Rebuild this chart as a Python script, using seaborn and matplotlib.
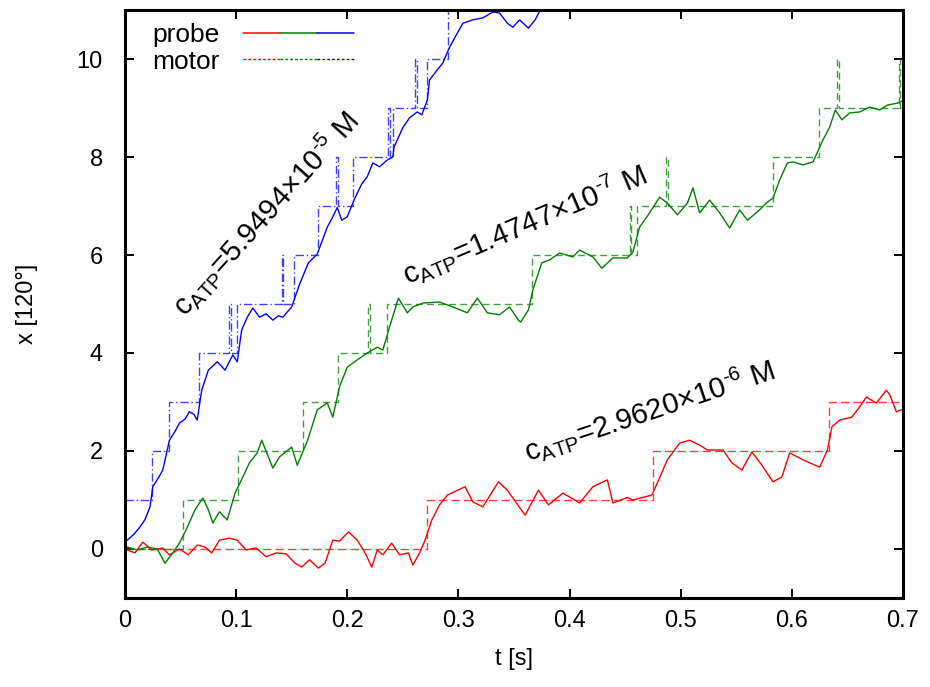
import numpy as np
import pandas as pd
import matplotlib
matplotlib.use("Agg")
import matplotlib.pyplot as plt
import seaborn as sns
from matplotlib.lines import Line2D
from matplotlib.legend_handler import HandlerTuple

# probe traces (t [s], x [120 deg])
t_blue = [0.000, 0.002, 0.008, 0.0135, 0.018, 0.0225, 0.025, 0.030, 0.034, 0.040, 0.045, 0.049,
          0.054, 0.058, 0.062, 0.065, 0.069, 0.075, 0.083, 0.086, 0.090, 0.097, 0.101, 0.105,
          0.110, 0.115, 0.121, 0.127, 0.133, 0.138, 0.142, 0.150, 0.157, 0.165, 0.173, 0.182,
          0.187, 0.191, 0.195, 0.200, 0.206, 0.213, 0.218, 0.223, 0.229, 0.236, 0.241, 0.242,
          0.250, 0.256, 0.263, 0.267, 0.272, 0.274, 0.281, 0.286, 0.292, 0.299, 0.304, 0.313,
          0.322, 0.331, 0.337, 0.344, 0.349, 0.355, 0.363, 0.369, 0.375, 0.385, 0.400]
x_blue = [0.15, 0.18, 0.30, 0.45, 0.60, 0.86, 1.27, 1.45, 1.61, 2.22, 2.40, 2.57,
          2.65, 2.80, 2.75, 2.63, 3.24, 3.65, 3.82, 3.75, 3.65, 3.96, 3.82, 4.47,
          4.73, 4.92, 4.73, 4.80, 4.67, 4.76, 4.73, 4.94, 5.40, 5.84, 6.02, 6.57,
          6.78, 6.97, 6.71, 6.78, 7.12, 7.45, 7.60, 7.88, 7.80, 7.94, 8.00, 8.20,
          8.60, 8.80, 8.92, 8.86, 9.16, 9.57, 9.78, 9.92, 10.24, 10.53, 10.73, 10.80,
          10.84, 10.96, 10.94, 10.73, 10.65, 10.80, 10.63, 10.80, 11.06, 11.5, 12.0]

t_green = [0.000, 0.002, 0.011, 0.020, 0.029, 0.036, 0.043, 0.049, 0.055, 0.063, 0.070, 0.075,
           0.079, 0.085, 0.092, 0.099, 0.106, 0.112, 0.119, 0.123, 0.129, 0.133, 0.139, 0.150,
           0.155, 0.164, 0.173, 0.182, 0.187, 0.193, 0.200, 0.209, 0.218, 0.227, 0.232, 0.238,
           0.246, 0.254, 0.259, 0.268, 0.283, 0.295, 0.308, 0.317, 0.326, 0.337, 0.346, 0.354,
           0.356, 0.363, 0.367, 0.375, 0.382, 0.391, 0.403, 0.409, 0.421, 0.429, 0.439, 0.452,
           0.457, 0.463, 0.472, 0.481, 0.488, 0.497, 0.506, 0.511, 0.517, 0.526, 0.535, 0.544,
           0.553, 0.560, 0.569, 0.578, 0.583, 0.589, 0.596, 0.601, 0.610, 0.619, 0.623, 0.628,
           0.634, 0.639, 0.645, 0.652, 0.661, 0.670, 0.679, 0.686, 0.695, 0.700]
x_green = [0.02, 0.04, -0.02, 0.04, 0.00, -0.29, -0.08, 0.12, 0.39, 0.80, 1.04, 0.80,
           0.53, 0.76, 0.59, 1.14, 1.47, 1.76, 1.96, 2.22, 1.88, 1.65, 1.88, 2.08,
           1.71, 2.20, 2.84, 2.98, 2.69, 3.31, 3.71, 3.86, 4.00, 4.12, 4.06, 4.53,
           5.12, 4.82, 4.94, 5.02, 5.04, 4.94, 4.82, 5.12, 4.82, 4.78, 4.94, 4.67,
           4.63, 4.88, 5.29, 5.84, 5.90, 6.04, 5.96, 6.10, 5.96, 5.73, 5.94, 5.94,
           6.06, 6.57, 6.86, 7.18, 7.06, 6.82, 7.06, 7.37, 6.86, 7.12, 6.86, 6.55,
           6.92, 6.71, 6.88, 7.08, 7.16, 7.53, 7.88, 7.90, 7.84, 7.90, 8.10, 8.35,
           8.61, 8.96, 8.76, 8.90, 8.92, 9.02, 8.96, 9.06, 9.10, 9.15]

t_red = [0.000, 0.002, 0.009, 0.016, 0.024, 0.034, 0.040, 0.049, 0.057, 0.065, 0.072, 0.078,
         0.085, 0.094, 0.101, 0.109, 0.118, 0.127, 0.136, 0.145, 0.153, 0.159, 0.166, 0.174,
         0.180, 0.187, 0.193, 0.201, 0.209, 0.216, 0.222, 0.227, 0.232, 0.240, 0.247, 0.255,
         0.259, 0.265, 0.270, 0.276, 0.283, 0.290, 0.306, 0.313, 0.322, 0.336, 0.344, 0.360,
         0.372, 0.381, 0.394, 0.409, 0.421, 0.434, 0.439, 0.452, 0.457, 0.474, 0.479, 0.488,
         0.499, 0.508, 0.517, 0.524, 0.538, 0.546, 0.555, 0.564, 0.573, 0.583, 0.591, 0.598,
         0.610, 0.625, 0.632, 0.636, 0.643, 0.654, 0.661, 0.667, 0.676, 0.685, 0.688, 0.694, 0.700]
x_red = [-0.05, -0.02, -0.08, 0.14, -0.02, 0.02, -0.12, 0.00, -0.12, 0.08, 0.04, -0.08,
         0.18, 0.22, 0.18, -0.02, 0.02, -0.16, -0.08, -0.10, -0.29, -0.37, -0.22, -0.39,
         -0.29, 0.18, 0.16, 0.35, 0.18, -0.08, -0.37, -0.02, -0.12, 0.12, -0.12, -0.08,
         -0.33, -0.08, 0.18, 0.59, 0.90, 1.10, 1.27, 0.96, 0.86, 1.37, 1.20, 0.69,
         1.20, 0.90, 1.14, 0.94, 1.27, 1.41, 0.94, 1.05, 1.00, 1.10, 1.35, 1.82,
         2.16, 2.22, 2.12, 2.02, 2.02, 1.76, 1.61, 1.98, 1.71, 1.37, 1.47, 1.96,
         1.82, 1.67, 2.02, 2.49, 2.63, 2.69, 2.90, 3.10, 2.98, 3.24, 3.15, 2.80, 2.85]

# motor steps (time of jump, new position)
tm_blue = [0, 0.024, 0.040, 0.067, 0.094, 0.0955, 0.101, 0.141, 0.1425, 0.152, 0.174, 0.190,
           0.1915, 0.205, 0.237, 0.2385, 0.241, 0.261, 0.2625, 0.272, 0.291, 0.33, 0.40]
xm_blue = [1, 2, 3, 4, 5, 4, 5, 6, 5, 6, 7, 8,
           7, 8, 9, 8, 9, 10, 9, 10, 11, 12, 12]
tm_green = [0, 0.052, 0.102, 0.160, 0.192, 0.219, 0.2205, 0.236, 0.366, 0.454, 0.4555, 0.461,
            0.487, 0.4885, 0.583, 0.624, 0.641, 0.6425, 0.696, 0.6975, 0.70]
xm_green = [0, 1, 2, 3, 4, 5, 4, 5, 6, 7, 6, 7,
            8, 7, 8, 9, 10, 9, 10, 9, 9]
tm_red = [0, 0.272, 0.475, 0.633, 0.70]
xm_red = [0, 1, 2, 3, 3]

labels = [r"c$_{\rm ATP}$=5.9494$\times$10$^{\text{-}5}$ M",
          r"c$_{\rm ATP}$=1.4747$\times$10$^{\text{-}7}$ M",
          r"c$_{\rm ATP}$=2.9620$\times$10$^{\text{-}6}$ M"]

RED, GREEN, BLUE = "#ff0000", "#008000", "#0000ff"

sns.set_theme(style="ticks")
plt.rcParams["font.family"] = ["Liberation Sans", "DejaVu Sans"]
plt.rcParams["mathtext.fontset"] = "custom"
plt.rcParams["mathtext.rm"] = "Liberation Sans"
plt.rcParams["mathtext.it"] = "Liberation Sans:italic"
for key in ["text.color", "axes.labelcolor", "xtick.color", "ytick.color", "axes.edgecolor"]:
    plt.rcParams[key] = "black"

fig = plt.figure(figsize=(9.3, 6.87), dpi=100)
ax = fig.add_axes([0.1344, 0.1296, 0.8366, 0.8558])

motor_style = dict(estimator=None, sort=False, drawstyle="steps-post", linewidth=1.0, alpha=0.75)
sns.lineplot(x=tm_red, y=xm_red, color=RED, ax=ax, linestyle=(0, (6, 3)), **motor_style)
sns.lineplot(x=tm_green, y=xm_green, color=GREEN, ax=ax, linestyle=(0, (5, 3)), **motor_style)
sns.lineplot(x=tm_blue, y=xm_blue, color=BLUE, ax=ax, linestyle=(0, (6, 2, 1, 2)), **motor_style)

probe_style = dict(estimator=None, sort=False, linewidth=1.0)
sns.lineplot(x=t_red, y=x_red, color=RED, ax=ax, **probe_style)
sns.lineplot(x=t_green, y=x_green, color=GREEN, ax=ax, **probe_style)
sns.lineplot(x=t_blue, y=x_blue, color=BLUE, ax=ax, **probe_style)

ax.set_xlim(0, 0.7)
ax.set_ylim(-1, 11)
ax.set_xticks(np.arange(0, 0.71, 0.1))
ax.set_xticklabels(["0", "0.1", "0.2", "0.3", "0.4", "0.5", "0.6", "0.7"])
ax.set_yticks([0, 2, 4, 6, 8, 10])
ax.tick_params(direction="in", length=6.5, width=1.4, top=True, right=True, labelsize=17)
ax.tick_params(axis="x", pad=9)
ax.tick_params(axis="y", pad=16)
for s in ax.spines.values():
    s.set_linewidth(2.2)
ax.set_xlabel("t [s]", fontsize=17, labelpad=11)
ax.set_ylabel("x [120°]", fontsize=17, labelpad=28)

ax.text(0.054, 4.72, labels[0], rotation=48, rotation_mode="anchor", fontsize=21, ha="left", va="baseline")
ax.text(0.254, 5.39, labels[1], rotation=23, rotation_mode="anchor", fontsize=21, ha="left", va="baseline")
ax.text(0.362, 1.78, labels[2], rotation=18.5, rotation_mode="anchor", fontsize=21, ha="left", va="baseline")

h_probe = tuple(Line2D([], [], color=c, linewidth=1.1) for c in (RED, GREEN, BLUE))
h_motor = tuple(Line2D([], [], color=c, linewidth=1.0, linestyle=(0, (2, 1.5))) for c in (RED, GREEN, BLUE))
ax.legend([h_probe, h_motor], ["probe", "motor"], handler_map={tuple: HandlerTuple(ndivide=None, pad=0)},
          loc="upper left", bbox_to_anchor=(0.035, 0.978), frameon=False, markerfirst=False,
          handlelength=4.2, fontsize=19, labelspacing=0.1, handletextpad=0.9,
          borderpad=0, borderaxespad=0)

fig.savefig("out.png", dpi=100)
